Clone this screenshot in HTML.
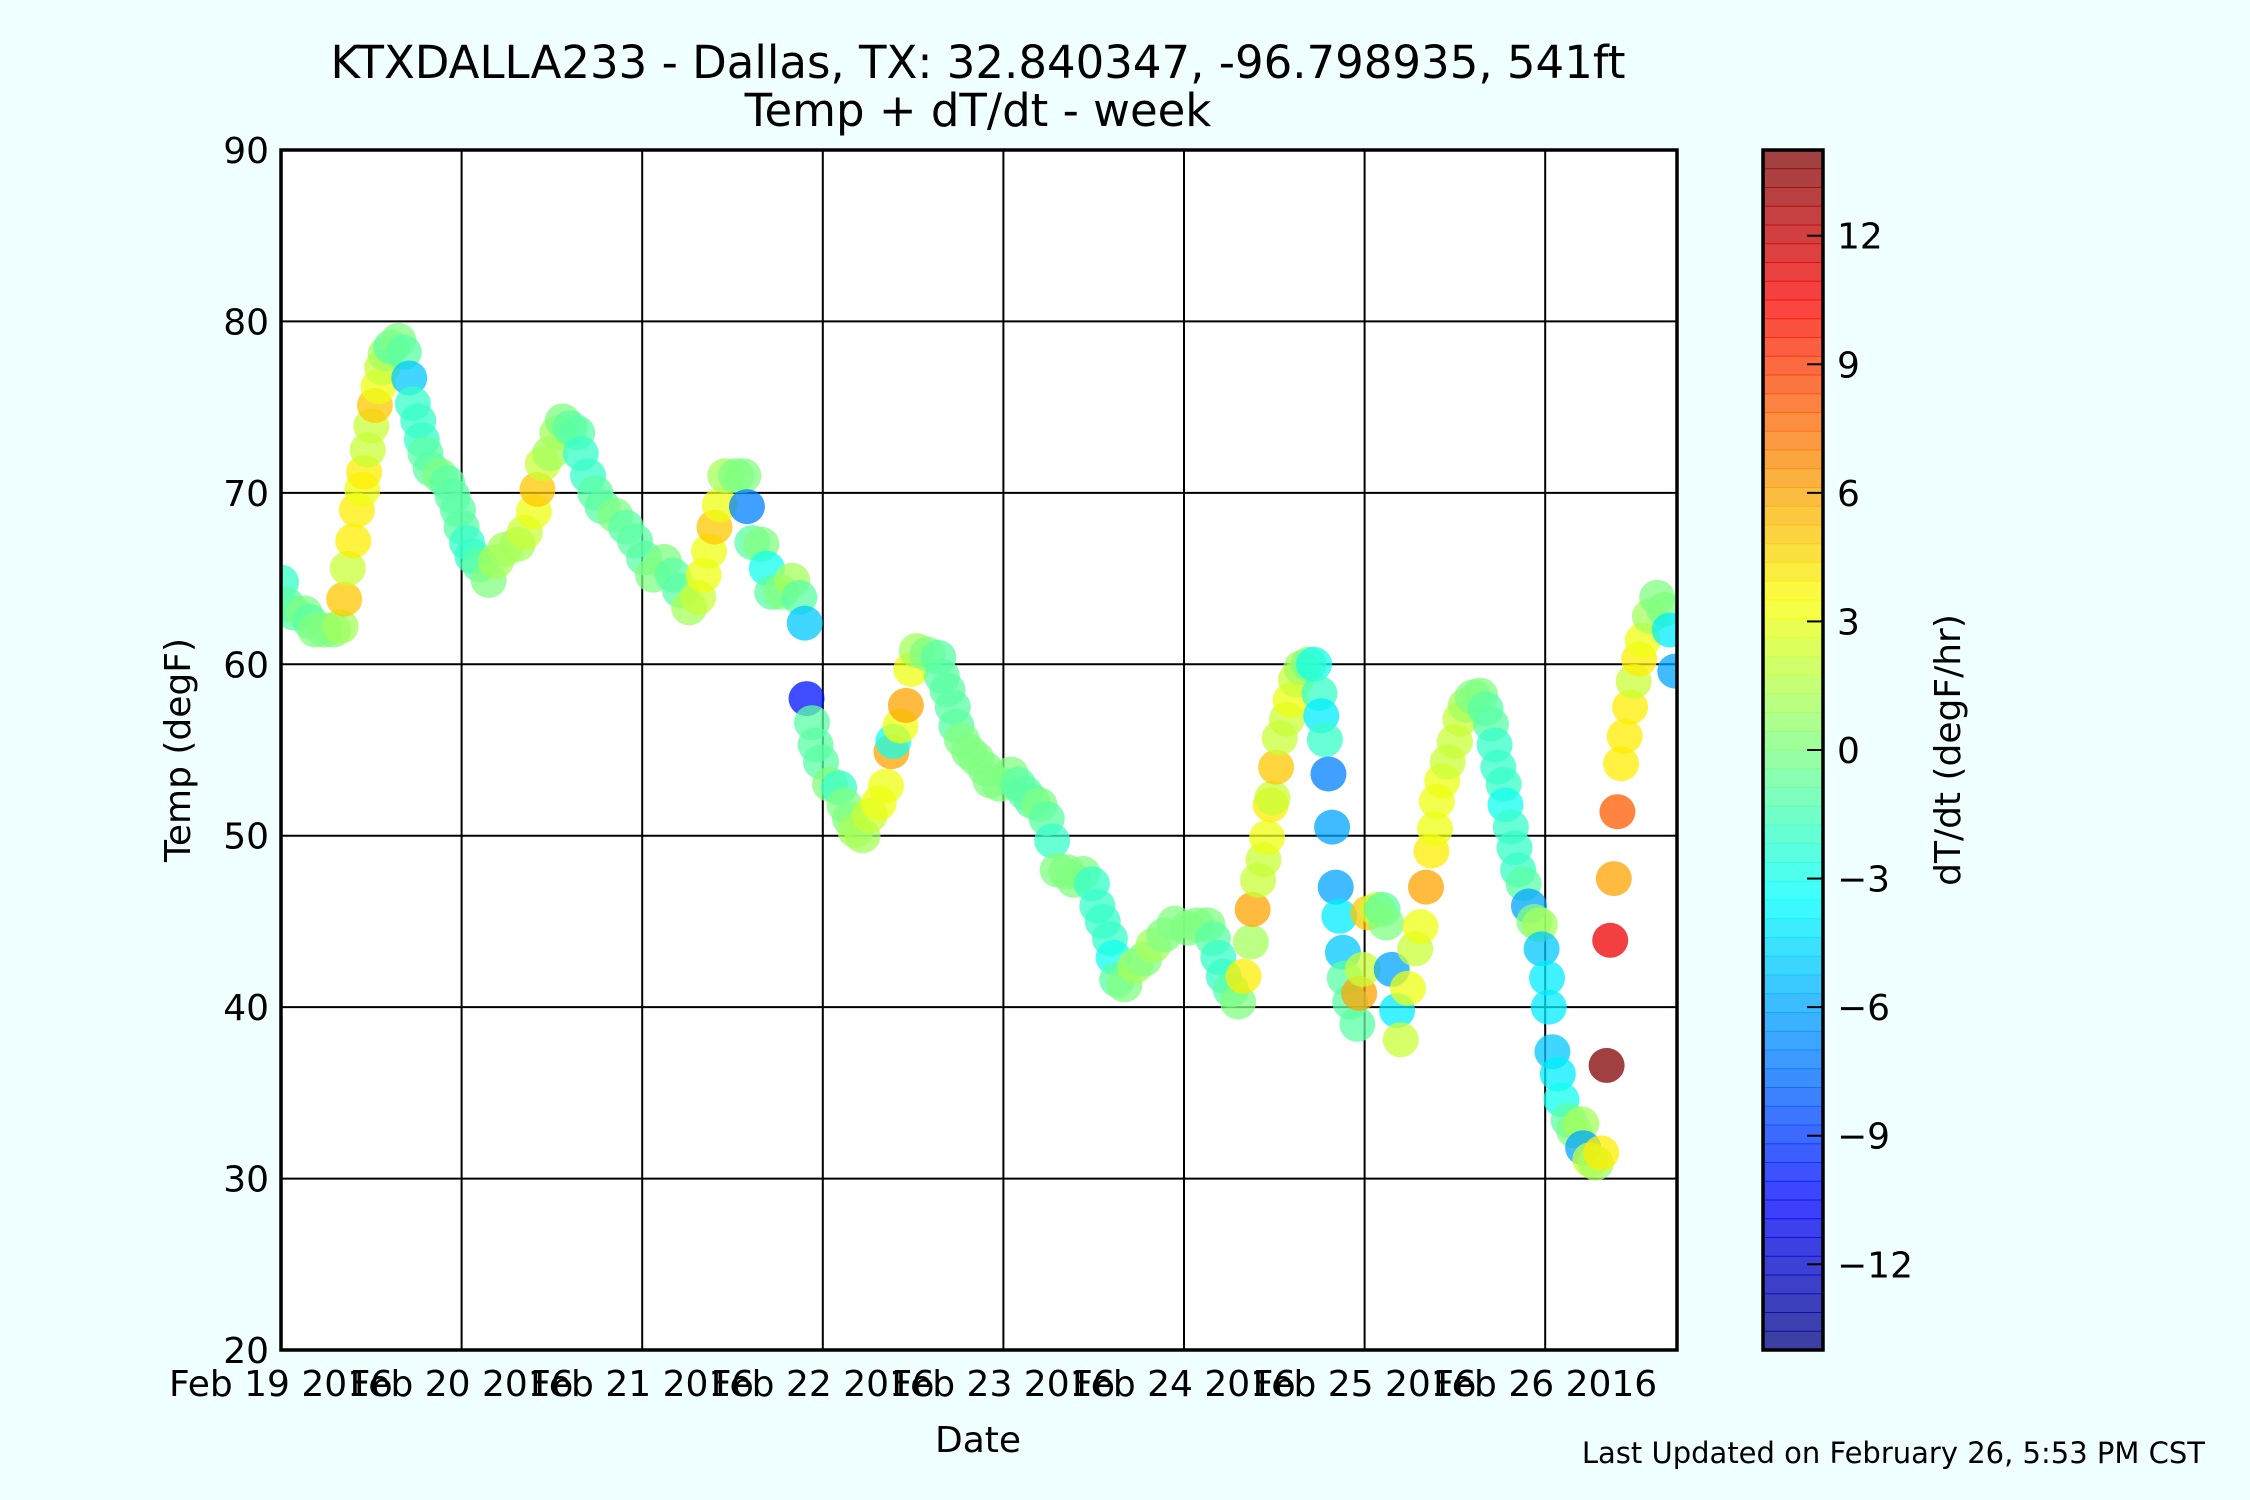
<!DOCTYPE html>
<html><head><meta charset="utf-8"><style>
html,body{margin:0;padding:0;background:#f0ffff;}
svg{display:block;font-family:"DejaVu Sans","Liberation Sans",sans-serif;}
</style></head><body>
<svg id="chart" width="2250" height="1500" viewBox="0 0 2250 1500">
<rect x="0" y="0" width="2250" height="1500" fill="#f0ffff"/>
<text x="978" y="78" font-size="45" text-anchor="middle">KTXDALLA233 - Dallas, TX: 32.840347, -96.798935, 541ft</text>
<text x="978" y="126" font-size="45" text-anchor="middle">Temp + dT/dt - week</text>
<g id="plot"></g>
<g id="cbar"></g>
<text x="978" y="1452" font-size="36" text-anchor="middle">Date</text>
<text transform="translate(190,750) rotate(-90)" font-size="36" text-anchor="middle">Temp (degF)</text>
<text transform="translate(1960,750) rotate(-90)" font-size="36" text-anchor="middle">dT/dt (degF/hr)</text>
<text x="2205" y="1463" font-size="29" text-anchor="end">Last Updated on February 26, 5:53 PM CST</text>
</svg>
<script>
const days=[0,.03,.07,.13,.16,.19,.24,.29,.33,.35,.37,.40,.42,.45,.46,.48,.50,.52,.54,.56,.58,.61,.65,.68,.71,.73,.76,.78,.80,.83,.88,.92,.95,.98,1.00,1.03,1.06,1.10,1.15,1.19,1.24,1.31,1.35,1.40,1.42,1.45,1.49,1.53,1.56,1.60,1.64,1.66,1.70,1.74,1.78,1.85,1.91,1.96,2.01,2.06,2.12,2.17,2.21,2.26,2.31,2.34,2.37,2.40,2.43,2.46,2.52,2.56,2.58,2.61,2.66,2.69,2.72,2.77,2.83,2.87,2.90,2.91,2.94,2.96,2.99,3.04,3.09,3.12,3.15,3.18,3.22,3.26,3.31,3.35,3.38,3.39,3.43,3.46,3.49,3.52,3.58,3.64,3.66,3.69,3.72,3.74,3.77,3.81,3.85,3.90,3.93,3.98,4.04,4.08,4.12,4.16,4.20,4.24,4.27,4.30,4.35,4.39,4.44,4.49,4.52,4.55,4.59,4.61,4.63,4.67,4.73,4.78,4.83,4.89,4.95,5.02,5.07,5.13,5.16,5.19,5.22,5.26,5.30,5.33,5.37,5.38,5.41,5.44,5.46,5.48,5.49,5.51,5.53,5.57,5.59,5.62,5.65,5.69,5.72,5.75,5.76,5.78,5.80,5.82,5.84,5.86,5.88,5.89,5.92,5.96,5.97,5.99,6.02,6.07,6.10,6.12,6.15,6.18,6.20,6.24,6.28,6.31,6.34,6.37,6.39,6.40,6.43,6.46,6.50,6.53,6.56,6.60,6.64,6.67,6.70,6.72,6.74,6.77,6.78,6.81,6.83,6.85,6.88,6.91,6.94,6.97,6.98,7.01,7.02,7.04,7.07,7.09,7.13,7.16,7.20,7.21,7.25,7.28,7.31,7.34,7.36,7.38,7.40,7.42,7.44,7.47,7.49,7.52,7.54,7.58,7.62,7.66,7.69,7.72];
const temps=[64.8,63.5,63,63,62.5,62,62,62,62.2,63.8,65.6,67.2,69,70.2,71.2,72.5,73.9,75.1,76.2,77.3,78.1,78.5,78.9,78.2,76.7,75.2,74.2,73.1,72.3,71.4,71,70.6,69.8,69,68,67.1,66.3,65.8,64.9,66,66.7,67,67.7,68.9,70.2,71.7,72.3,73.5,74.2,73.8,73.5,72.3,71,70,69.2,68.7,68,67.2,66.2,65.2,66,65.2,64.3,63.3,63.9,65.2,66.6,68,69.3,71,71,71,69.2,67.1,67,65.6,64.2,64.2,64.9,63.9,62.4,58,56.6,55.3,54.3,53,52.8,51.8,51,50.3,50,51.2,51.9,52.9,54.9,55.5,56.4,57.6,59.7,60.8,60.6,60.4,59.3,58.5,57.5,56.4,55.6,54.9,54.5,53.9,53.2,53,53.6,53,52.5,52,51.8,51,49.7,48,47.9,47.4,47.8,47.2,45.9,45,44,42.9,41.6,41.3,42.4,42.8,43.6,44.2,44.9,44.6,44.8,44.8,44,42.9,41.8,41,40.3,41.8,43.8,45.7,47.4,48.6,49.9,51.8,52.2,54,55.7,56.8,57.9,59.1,59.8,60,60,58.3,57,55.6,53.6,50.5,47,45.3,43.2,41.7,40.3,39,40.8,42.2,45.5,45.7,45.7,44.9,42.2,39.8,38.1,41.1,43.4,44.7,47,49.1,50.4,52,53.2,54.3,55.5,56.8,57.6,58.1,58.2,57.4,56.5,55.3,54,53,51.8,50.5,49.3,48,47.2,45.9,45,44.8,43.4,41.7,40,37.4,36.1,34.6,33.4,32.8,33.2,31.8,31.1,30.9,31.5,36.6,43.9,47.5,51.4,54.2,55.8,57.5,59,60.3,61.4,62.8,63.9,63.2,62,59.6];
const rates=[-2,-1,-1,0,-1,0,0,0,1,5,2,4,4,3,4,2,2,5,3,2,1,-1,0,-1,-5,-2,-2,-2,-1,-1,0,-1,-1,-1,-1,-2,-2,-1,0,1,1,1,2,3,5,2,1,1,0,-1,-1,-2,-2,-1,-1,0,-1,-1,-1,0,0,-1,-1,1,2,3,3,5,3,1,0,0,-7,-1,0,-3,-1,0,1,-1,-5,-10,-1,-1,-1,0,-2,0,0,1,1,2,3,3,6,-3,3,6,3,1,0,-1,-1,-1,-1,-1,0,0,0,0,0,0,0,-1,-1,-1,0,-1,-2,0,0,0,0,-2,-2,-2,-2,-3,-1,0,1,0,1,0,0,0,0,0,-1,-2,-2,-1,0,4,1,6,2,2,3,4,2,5,2,2,3,2,1,0,-3,-2,-4,-2,-7,-6,-6,-4,-5,-1,-1,-1,6,2,5,2,-1,0,-6,-4,2,3,2,3,6,4,3,3,3,2,2,2,1,0,0,-1,-1,-2,-2,-2,-3,-2,-2,-2,-1,-6,0,1,-5,-4,-4,-5,-4,-3,-1,0,1,-6,2,1,4,14,11,6,8,4,4,4,2,4,3,1,0,0,-4,-6];
const yTicks=[20,30,40,50,60,70,80,90];
const xTickLabels=["Feb 19 2016","Feb 20 2016","Feb 21 2016","Feb 22 2016","Feb 23 2016","Feb 24 2016","Feb 25 2016","Feb 26 2016"];
const cbTicks=[-12,-9,-6,-3,0,3,6,9,12];

const NS="http://www.w3.org/2000/svg";
const L=281,R=1677,T=150,B=1350,DAYW=180.6,CMIN=-14,CMAX=14;
const xs=d=>L+d*DAYW;
const ys=v=>B-(v-20)/70*(B-T);
function jet(v){
  let t=(v-CMIN)/(CMAX-CMIN);t=Math.max(0,Math.min(1,t));
  const f=x=>Math.round(255*Math.max(0,Math.min(1,1.5-Math.abs(4*t-x))));
  return `rgb(${f(3)},${f(2)},${f(1)})`;
}
function el(tag,attrs,parent){const e=document.createElementNS(NS,tag);for(const k in attrs)e.setAttribute(k,attrs[k]);parent.appendChild(e);return e;}
const plot=document.getElementById('plot');
el('rect',{x:L,y:T,width:R-L,height:B-T,fill:'#fff'},plot);
const defs=el('defs',{},plot);
const cp=el('clipPath',{id:'clip'},defs);
el('rect',{x:L,y:T,width:R-L,height:B-T},cp);
for(let i=0;i<xTickLabels.length;i++){
  const g=el('line',{x1:xs(i),x2:xs(i),y1:T,y2:B,stroke:'#000','stroke-width':2},plot);
  
  
  const t=el('text',{x:xs(i),y:B+46,'font-size':36,'text-anchor':'middle'},plot);
  t.textContent=xTickLabels[i];
  
  
}
yTicks.forEach(v=>{
  const g=el('line',{x1:L,x2:R,y1:ys(v),y2:ys(v),stroke:'#000','stroke-width':2},plot);
  
  
  const t=el('text',{x:L-12,y:ys(v)+13,'font-size':36,'text-anchor':'end'},plot);
  t.textContent=v;
  
  
});
const pts=el('g',{'clip-path':'url(#clip)'},plot);


for(let i=0;i<days.length;i++){
  const c=el('ellipse',{cx:xs(days[i]),cy:ys(temps[i]),rx:18,ry:17.5,fill:jet(rates[i]),'fill-opacity':0.75},pts);
  
  
}
const fr=el('rect',{x:L,y:T,width:R-L,height:B-T,fill:'none',stroke:'#000','stroke-width':3.5},plot);


const cb=document.getElementById('cbar');
const CX=1763,CW=60;
const cs=v=>B-(v-CMIN)/(CMAX-CMIN)*(B-T);
const N=64;
for(let i=0;i<N;i++){
  const v0=CMIN+(CMAX-CMIN)*i/N;
  el('rect',{x:CX,y:cs(v0+(CMAX-CMIN)/N)-0.5,width:CW,height:(B-T)/N+1,fill:jet(v0+(CMAX-CMIN)/N/2),'fill-opacity':0.75},cb);
}
el('rect',{x:CX,y:T,width:CW,height:B-T,fill:'none',stroke:'#000','stroke-width':3.5},cb);
cbTicks.forEach(v=>{
  el('line',{x1:CX+CW-16,x2:CX+CW,y1:cs(v),y2:cs(v),stroke:'#000','stroke-width':2},cb);
  const t=el('text',{x:CX+CW+14,y:cs(v)+13,'font-size':36},cb);
  t.textContent=v<0?'\u2212'+Math.abs(v):String(v);
  
  
});
</script>
</body></html>
